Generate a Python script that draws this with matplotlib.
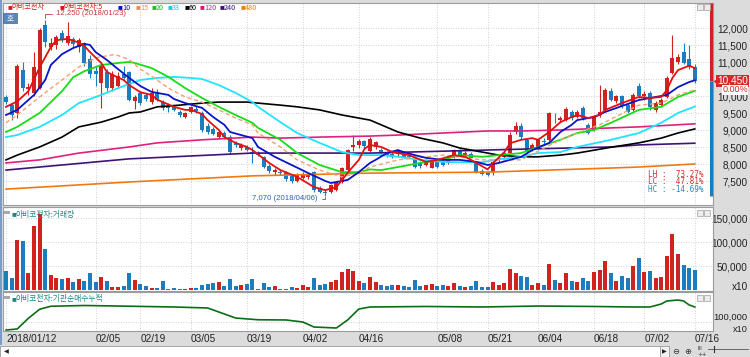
import numpy as np
import matplotlib
matplotlib.use("Agg")
import matplotlib.pyplot as plt
from matplotlib.patches import Rectangle
from matplotlib.transforms import blended_transform_factory

plt.rcParams['font.family'] = ['Noto Sans CJK KR', 'DejaVu Sans']

NAME = '아비코전자'

# daily candles, 2018/01/12 .. 2018/07/16
opens = [9980, 9750, 9500, 10770, 10200, 10100, 10250, 12100, 11450, 11500,
         11860, 11560, 11680, 11450, 11560, 11100, 10750, 10400, 10700, 10250,
         10300, 10650, 10700, 9850, 10100, 10040, 9830, 10130, 9830, 9710,
         9680, 9540, 9390, 9540, 9640, 9510, 9120, 9050, 8800, 8920,
         8800, 8620, 8480, 8520, 8360, 8330, 8210, 7950, 7760, 7780,
         7780, 7650, 7520, 7600, 7620, 7780, 7300, 7200, 7190, 7250,
         7480, 7830, 8500, 8560, 8680, 8400, 8500, 8420, 8360, 8300,
         8300, 8360, 8250, 8210, 8050, 7980, 7900, 8060, 8100, 8050,
         8230, 8400, 8280, 8300, 8060, 7800, 7750, 7770, 8120, 8220,
         8330, 8950, 9120, 8710, 8420, 8480, 8700, 8720, 9400, 9300,
         9300, 9540, 9390, 9650, 9160, 9010, 9450, 9600, 10150, 9850,
         10000, 9750, 9600, 10300, 10000, 10100, 9600, 9750, 9980, 10690,
         11010, 11300, 11100, 10860]
highs = [10050, 9800, 10950, 11000, 10400, 11300, 12000, 12250, 11700, 11800,
         11950, 12190, 11750, 11700, 11600, 11200, 10900, 10950, 10800, 10750,
         10700, 10900, 10750, 10050, 10150, 10100, 10250, 10200, 9900, 9800,
         9720, 9600, 9550, 9720, 9700, 9560, 9200, 9100, 9000, 8980,
         8850, 8700, 8620, 8560, 8520, 8380, 8250, 8000, 7880, 7830,
         7800, 7700, 7750, 7760, 7720, 7800, 7350, 7260, 7420, 7520,
         7920, 8450, 8860, 8750, 8720, 8800, 8700, 8480, 8400, 8350,
         8420, 8400, 8300, 8250, 8100, 8150, 8120, 8100, 8180, 8250,
         8450, 8450, 8380, 8350, 8100, 7850, 7800, 8100, 8250, 8350,
         8950, 9250, 9200, 8780, 8620, 8750, 8780, 9550, 9500, 9420,
         9680, 9600, 9600, 9700, 9200, 9450, 10330, 10250, 10250, 10050,
         10050, 9800, 10100, 10400, 10150, 10150, 9850, 9950, 10600, 11800,
         11250, 11560, 11500, 10950]
lows = [9780, 9300, 9350, 10150, 10050, 10000, 10200, 11450, 11350, 11400,
        11600, 11500, 11450, 11300, 10900, 10550, 10300, 9650, 10150, 10150,
        10250, 10500, 9850, 9640, 9750, 9850, 9780, 9850, 9600, 9550,
        9560, 9400, 9350, 9500, 9520, 8950, 8900, 8850, 8750, 8750,
        8300, 8500, 8420, 8400, 8050, 8250, 7880, 7750, 7700, 7700,
        7520, 7450, 7480, 7560, 7580, 7200, 7150, 7070, 7150, 7220,
        7450, 7800, 8400, 8480, 8480, 8350, 8450, 8300, 8220, 8180,
        8250, 8200, 8180, 7880, 7900, 7950, 7880, 7900, 7950, 8000,
        8200, 8250, 8250, 8150, 7750, 7700, 7650, 7700, 8080, 8180,
        8300, 8900, 8750, 8300, 8380, 8450, 8600, 8700, 9200, 9250,
        9280, 9300, 9350, 9300, 8880, 8980, 9400, 9550, 9850, 9800,
        9650, 9500, 9580, 9950, 9900, 9600, 9550, 9700, 9950, 10650,
        10950, 10950, 10800, 10400]
closes = [9830, 9450, 10890, 10250, 10280, 10860, 11950, 11600, 11560, 11740,
          11680, 11770, 11550, 11650, 10970, 10650, 10650, 10900, 10250, 10650,
          10600, 10550, 9900, 9980, 9800, 9920, 10100, 9890, 9650, 9650,
          9600, 9450, 9510, 9680, 9560, 9010, 8950, 8900, 8950, 8800,
          8360, 8580, 8570, 8430, 8330, 8280, 7920, 7800, 7820, 7740,
          7570, 7520, 7700, 7700, 7680, 7250, 7200, 7170, 7390, 7480,
          7890, 8420, 8570, 8680, 8530, 8750, 8660, 8330, 8270, 8210,
          8390, 8220, 8210, 7920, 7950, 8100, 8090, 7920, 7980, 8200,
          8420, 8280, 8330, 8180, 7770, 7720, 7680, 8060, 8180, 8330,
          8860, 9120, 8800, 8360, 8570, 8710, 8650, 9500, 9380, 9360,
          9630, 9360, 9540, 9360, 8920, 9390, 9540, 10190, 9900, 10000,
          9700, 9550, 10050, 10000, 10080, 9680, 9800, 9890, 10530, 11120,
          11160, 10980, 10860, 10450]
# volume, in thousands (axis unit x10)
volume_k = [41, 25, 105, 102, 37, 134, 158, 86, 31, 25,
            23, 25, 17, 23, 19, 37, 18, 27, 19, 7,
            7, 8, 37, 21, 14, 8, 4, 4, 19, 3,
            5, 3, 3, 5, 4, 10, 14, 15, 18, 8,
            24, 8, 11, 14, 24, 2, 15, 7, 8, 3,
            3, 7, 4, 10, 6, 25, 12, 14, 18, 22,
            38, 45, 40, 20, 15, 28, 18, 10, 8, 12,
            10, 9, 6, 22, 8, 10, 14, 9, 12, 8,
            15, 9, 7, 8, 20, 6, 7, 18, 10, 15,
            45, 35, 30, 28, 12, 15, 10, 55, 22, 15,
            35, 20, 18, 25, 20, 38, 42, 60, 35, 20,
            30, 25, 50, 68, 39, 41, 26, 27, 72, 118,
            76, 52, 46, 42]

# moving averages (candle index, price)
ma5_i = [0, 2, 4, 6, 8, 9, 11, 13, 14, 15, 17, 18, 19, 21, 22, 24, 26, 27, 30, 32,
         33, 35, 36, 38, 39, 41, 43, 44, 47, 49, 52, 55, 57, 59, 61, 63, 64, 65, 67, 69,
         72, 75, 77, 80, 82, 84, 86, 87, 89, 90, 92, 94, 95, 97, 99, 101, 102, 104, 106, 107,
         110, 113, 115, 117, 118, 119, 120, 122, 123]
ma5_v = [9690, 9850, 10150, 10850, 11450, 11650, 11690, 11580, 11480, 11300, 10980, 10720, 10630, 10480, 10330, 10120, 10040, 9900, 9690, 9600,
         9600, 9480, 9300, 9010, 8800, 8630, 8510, 8420, 8040, 7830, 7630, 7330, 7240, 7330, 7750, 8130, 8450, 8570, 8510, 8360,
         8270, 8070, 8130, 8270, 8220, 8040, 7850, 8040, 8360, 8620, 8720, 8770, 8720, 8950, 9240, 9390, 9450, 9360, 9450, 9600,
         9800, 9980, 9950, 9980, 10180, 10540, 10770, 10900, 10830]
ma10_i = [0, 2, 5, 7, 8, 10, 12, 14, 15, 16, 18, 20, 22, 24, 26, 29, 30, 32, 35, 37,
          39, 40, 42, 44, 45, 48, 51, 54, 57, 58, 61, 63, 65, 66, 68, 70, 71, 73, 75, 78,
          81, 84, 86, 88, 92, 94, 97, 99, 101, 102, 105, 107, 113, 115, 118, 120, 122, 123]
ma10_v = [9450, 9600, 10040, 10480, 10920, 11240, 11420, 11540, 11510, 11300, 11070, 10800, 10540, 10300, 10130, 10040, 9920, 9800, 9660, 9390,
          9160, 8950, 8860, 8770, 8510, 8220, 7980, 7740, 7510, 7450, 7540, 7770, 8040, 8130, 8330, 8420, 8360, 8270, 8190, 8130,
          8130, 8070, 7980, 8040, 8220, 8420, 8630, 8950, 9160, 9300, 9390, 9540, 9890, 9950, 10040, 10270, 10420, 10470]
ma15_i = [0, 2, 6, 10, 13, 16, 19, 20, 22, 24, 26, 29, 32, 35, 38, 41, 44, 45, 49, 52,
          56, 60, 63, 65, 70, 78, 85, 92, 99, 102, 106, 113, 117, 120, 123]
ma15_v = [9220, 9450, 9980, 10480, 10860, 11130, 11220, 11200, 11080, 10800, 10590, 10240, 9980, 9830, 9600, 9360, 9160, 8920, 8510, 8130,
          7830, 7630, 7740, 7920, 8130, 8270, 8130, 8130, 8720, 8920, 9160, 9740, 9800, 10040, 10190]
ma20_i = [0, 2, 6, 10, 12, 14, 17, 20, 22, 23, 26, 29, 32, 35, 38, 41, 44, 45, 49, 52,
          56, 60, 63, 65, 67, 70, 74, 78, 81, 85, 88, 92, 95, 99, 102, 105, 108, 113, 117, 120, 123]
ma20_v = [8950, 9100, 9510, 10150, 10560, 10740, 10920, 10980, 11010, 10980, 10830, 10570, 10240, 9950, 9690, 9450, 9220, 9070, 8720, 8330,
          7980, 7770, 7770, 7850, 7830, 7920, 8040, 8130, 8270, 8220, 8270, 8330, 8510, 8720, 8920, 9010, 9220, 9600, 9690, 9980, 10160]
ma33_i = [0, 2, 6, 10, 13, 17, 20, 24, 27, 30, 33, 35, 38, 41, 44, 45, 49, 52, 56, 60,
          63, 67, 70, 74, 78, 81, 85, 88, 92, 95, 99, 102, 108, 113, 117, 120, 123]
ma33_v = [8800, 8860, 9100, 9450, 9800, 10040, 10240, 10480, 10540, 10570, 10540, 10510, 10330, 10100, 9830, 9690, 9240, 8920, 8630, 8360,
          8270, 8270, 8220, 8130, 8070, 8060, 8060, 8150, 8220, 8330, 8360, 8510, 8720, 8920, 9220, 9510, 9700]
ma60_i = [0, 2, 6, 10, 13, 17, 20, 22, 24, 27, 31, 35, 38, 43, 45, 49, 52, 56, 60, 65,
          67, 70, 74, 78, 81, 85, 88, 92, 95, 99, 102, 108, 113, 117, 120, 123]
ma60_v = [8130, 8270, 8510, 8800, 9100, 9240, 9390, 9510, 9540, 9690, 9740, 9800, 9830, 9830, 9800, 9740, 9690, 9600, 9450, 9300,
          9160, 8950, 8770, 8630, 8480, 8360, 8270, 8220, 8220, 8270, 8330, 8500, 8630, 8770, 8920, 9040]
ma120_i = [0, 6, 13, 22, 27, 35, 44, 49, 56, 65, 70, 78, 86, 92, 99, 108, 113, 123]
ma120_v = [8040, 8130, 8330, 8510, 8630, 8720, 8800, 8770, 8800, 8830, 8860, 8920, 8980, 8980, 9010, 9070, 9100, 9190]
ma240_i = [0, 22, 44, 65, 86, 108, 113, 123]
ma240_v = [7830, 8160, 8330, 8330, 8420, 8510, 8570, 8620]
ma480_i = [0, 22, 44, 65, 86, 108, 113, 123]
ma480_v = [7270, 7480, 7660, 7740, 7770, 7890, 7920, 8010]

# institutional net buying, cumulative (thousands, axis unit x10)
inst_i = [0, 2, 4, 6, 8, 14, 20, 30, 36, 41, 45, 50, 53, 55, 59, 61, 63, 65, 75, 85,
          95, 105, 112, 115, 117, 118, 120, 121, 122, 123]
inst_k = [89.3, 90.7, 105, 117, 121, 122, 121.3, 120, 118.7, 105.3, 103, 102.7, 100, 93.3, 92, 102.7, 117.3, 120, 120.7, 120,
          121.3, 120.7, 120, 120, 124, 128, 129.3, 128, 122.7, 120]

ma_periods = [5, 10, 15, 20, 33, 60, 120, 240, 480]
price_ticks = [7500, 8000, 8500, 9000, 9500, 10000, 10500, 11000, 11500, 12000]
vol_ticks = [50000, 100000, 150000]
inst_ticks = [100000]
tick_idx = [0, 16, 24, 33, 43, 53, 63, 77, 86, 95, 105, 114, 123]
tick_lbl = ['2018/01/12', '02/05', '02/19', '03/05', '03/19', '04/02', '04/16',
            '05/08', '05/21', '06/04', '06/18', '07/02', '07/16']

RED = '#d0231f'
BLUE = '#1c7cc0'
TEAL = '#1f8585'
GRID = '#c2c2c2'
NUM_FONT = 'Liberation Sans'

W, H = 750, 357
fig = plt.figure(figsize=(W / 100, H / 100), dpi=100, facecolor='#dcdcdc')


def box(x0, y0, x1, y1):
    return [x0 / W, 1 - y1 / H, (x1 - x0) / W, (y1 - y0) / H]


def fxy(x, y):
    return x / W, 1 - y / H


ax = fig.add_axes(box(3, 3, 713, 205))
axv = fig.add_axes(box(3, 207, 713, 291))
axi = fig.add_axes(box(3, 292, 713, 331))

o = np.array(opens)
h = np.array(highs)
l = np.array(lows)
c = np.array(closes)
x = np.arange(len(c))
cols = np.where(c >= o, RED, BLUE)

for a in (ax, axv, axi):
    a.set_facecolor('white')
    a.set_xlim(-0.54, 126.25)
    for s in a.spines.values():
        s.set_color('#9c9c9c')
        s.set_linewidth(0.8)
    for t in tick_idx:
        a.axvline(t, color=GRID, lw=0.6, ls=(0, (1, 2)), zorder=0)
    a.yaxis.tick_right()
    a.tick_params(axis='x', length=0, labelbottom=False)
    a.tick_params(axis='y', length=0, pad=25, labelsize=7.2, labelcolor='#222222')
    a.grid(axis='y', color=GRID, lw=0.6, ls=(0, (1, 2)), zorder=0)

# ---- price panel ----
ax.set_ylim(6803, 12744)
ax.set_yticks(price_ticks, [f'{v:,}' for v in price_ticks])
ax.vlines(x, l, h, colors=cols, lw=0.8, zorder=2)
ax.bar(x, np.maximum(np.abs(c - o), 15), bottom=np.minimum(o, c), width=0.72,
       color=cols, lw=0, zorder=3)

ma_style = [
    (ma480_i, ma480_v, '#f07a10', '-', 1.2),
    (ma240_i, ma240_v, '#3c1478', '-', 1.2),
    (ma120_i, ma120_v, '#e0207f', '-', 1.2),
    (ma60_i, ma60_v, '#000000', '-', 1.2),
    (ma33_i, ma33_v, '#20e4ff', '-', 1.3),
    (ma20_i, ma20_v, '#18dc18', '-', 1.3),
    (ma15_i, ma15_v, '#f4a070', (0, (3, 2)), 1.0),
    (ma10_i, ma10_v, '#0a14c8', '-', 1.3),
    (ma5_i, ma5_v, '#e41010', '-', 1.3),
]
for xi, yv, col, ls, lw in ma_style:
    ax.plot(xi, yv, color=col, ls=ls, lw=lw, zorder=4)

hi = int(h.max())
lo = int(l.min())
last = int(c[-1])
i_hi = int(h.argmax())
i_lo = int(l.argmin())

ax.annotate(f'{hi:,} (2018/01/23)', xy=(i_hi, hi), xytext=(56, H - 13.5),
            textcoords='figure pixels', ha='left', va='center', fontsize=5.6,
            family=NUM_FONT, color='#c03a3a',
            arrowprops=dict(arrowstyle='-', color='#c03a3a', lw=0.6, shrinkA=1, shrinkB=1,
                            connectionstyle='angle,angleA=0,angleB=90,rad=0'))
ax.annotate(f'{lo:,} (2018/04/06)', xy=(i_lo, lo), xytext=(318, H - 199),
            textcoords='figure pixels', ha='right', va='center', fontsize=5.6,
            family=NUM_FONT, color='#2a64b0',
            arrowprops=dict(arrowstyle='-', color='#2a64b0', lw=0.6, shrinkA=1, shrinkB=1,
                            connectionstyle='angle,angleA=0,angleB=90,rad=0'))

# high/low/last statistics
stats = [('LH', (hi - lo) / lo * 100, '#d03030', 174.5),
         ('LC', (last - lo) / lo * 100, '#d03030', 182),
         ('HC', (last - hi) / hi * 100, '#2a86c8', 190)]
for key, val, col, yy in stats:
    fig.text(*fxy(704, yy), f'{key} : {val:6.2f}%', ha='right', va='center',
             fontsize=5.6, family='DejaVu Sans Mono', color=col)

trans = blended_transform_factory(ax.transAxes, ax.transData)
ytop = ax.get_ylim()[1]
xa = (711 - 3) / 710
ax.plot([xa, xa], [last, ytop], transform=trans, color=RED, lw=2.2,
        solid_capstyle='butt', clip_on=False, zorder=5)
ax.plot([xa, xa], [lo, last], transform=trans, color=BLUE, lw=2.2,
        solid_capstyle='butt', clip_on=False, zorder=5)
ax.plot([1.006], [last], transform=trans, marker='<', ms=5, color=RED,
        clip_on=False, zorder=6)
xr = (748 - 3) / 710
ax.text(xr, last, f'{last:,}', transform=trans, ha='right', va='center',
        fontsize=7.2, family=NUM_FONT, color='white', clip_on=False, zorder=6,
        bbox=dict(boxstyle='square,pad=0.12', fc='#d42a2a', ec='none'))
ax.annotate(f'{(last - c[-1]) / last * 100:.2f}%', xy=(xr, last), xycoords=trans,
            xytext=(0, -6.4), textcoords='offset points', ha='right', va='center',
            fontsize=6.5, family=NUM_FONT, color='#d42a2a', zorder=6,
            bbox=dict(boxstyle='square,pad=0.02', fc='white', ec='none'))

# ---- volume panel ----
vol = np.array(volume_k) * 1000
axv.set_ylim(-1500, 173500)
axv.set_yticks(vol_ticks, [f'{v:,}' for v in vol_ticks])
axv.bar(x, vol, width=0.72, color=cols, lw=0, zorder=3)
fig.text(*fxy(748, 287), 'x10', ha='right', va='center', fontsize=7.2,
         family=NUM_FONT, color='#222222')

# ---- institutional panel ----
axi.set_ylim(88000, 140000)
axi.set_yticks(inst_ticks, [f'{v:,}' for v in inst_ticks])
axi.plot(inst_i, np.array(inst_k) * 1000, color='#0a6e14', lw=1.2, zorder=3)
fig.text(*fxy(748, 329), 'x10', ha='right', va='center', fontsize=6.6,
         family=NUM_FONT, color='#222222')
axi.set_xticks(tick_idx, tick_lbl)
axi.tick_params(axis='x', labelbottom=True, length=0, pad=2.5, labelsize=7.2,
                labelcolor='#222222')

for a in (ax, axv, axi):
    for lbl in a.get_yticklabels() + a.get_xticklabels():
        lbl.set_family(NUM_FONT)
    for lbl in a.get_yticklabels():
        lbl.set_ha('right')
for lbl in axi.get_yticklabels():
    lbl.set_va('bottom')
    lbl.set_fontsize(6.8)
for lbl in axi.get_xticklabels():
    lbl.set_ha('left')

# ---- headers ----
legend_items = [NAME, f'{NAME}:{ma_periods[0]}'] + [str(p) for p in ma_periods[1:]]
legend_cols = ['#d42020', '#e41010', '#0a14c8', '#f08c50', '#18c818', '#18c8e8',
               '#000000', '#d81b7a', '#3c1478', '#ee8010']
legend_x = [8, 60, 118, 136, 152, 168, 185, 200, 220, 241]
for txt, col, xx in zip(legend_items, legend_cols, legend_x):
    fig.text(*fxy(xx, 7.5), '■', fontsize=3.5, color=col, va='center')
    fig.text(*fxy(xx + 4, 7.5), txt, fontsize=5.2, color=col, va='center')

fig.patches.append(Rectangle(fxy(3, 23), 14 / W, 10 / H, transform=fig.transFigure,
                             fc='#5d86b5', ec='#44668e', lw=0.5))
fig.text(*fxy(10, 18), '호', fontsize=5.5, color='white', ha='center', va='center')

for yy, label in [(215, f'{NAME}:거래량'), (299.5, f'{NAME}:기관순매수누적')]:
    fig.patches.append(Rectangle(fxy(4, yy - 1), 6 / W, 3 / H, transform=fig.transFigure,
                                 fc='#a8a8a8', ec='none'))
    fig.text(*fxy(12, yy), '■', fontsize=3.5, color=TEAL, va='center')
    fig.text(*fxy(16, yy), label, fontsize=5.6, color=TEAL, va='center')

# little panel buttons
for yy in (4, 210, 295):
    for xx in (697, 704):
        fig.patches.append(Rectangle(fxy(xx, yy + 6), 6 / W, 6 / H,
                                     transform=fig.transFigure, fc='#ececec',
                                     ec='#a0a0a0', lw=0.5))

# left edge strip
fig.patches.append(Rectangle(fxy(0, 345), 1.5 / W, 345 / H, transform=fig.transFigure,
                             fc='#7c9cc6', ec='none'))

# ---- scroll bar ----
fig.patches.append(Rectangle(fxy(0, 357), 660 / W, 11 / H, transform=fig.transFigure,
                             fc='white', ec='#9a9a9a', lw=0.6))
fig.patches.append(Rectangle(fxy(660, 357), 9 / W, 11 / H, transform=fig.transFigure,
                             fc='#f2f2f2', ec='#9a9a9a', lw=0.6))
fig.text(*fxy(4, 351.5), '◀', fontsize=4.5, color='#222222', va='center', family='DejaVu Sans')
fig.text(*fxy(662, 351.5), '▶', fontsize=4.5, color='#222222', va='center', family='DejaVu Sans')
fig.text(*fxy(672, 351.5), '⊖', fontsize=6, color='#333333', va='center', family='DejaVu Sans')
fig.text(*fxy(684, 351.5), '⊕', fontsize=6, color='#333333', va='center', family='DejaVu Sans')
fig.text(*fxy(697, 349), 'III', fontsize=4, color='#333333', va='center', family='DejaVu Sans')
fig.text(*fxy(697, 354.5), '++', fontsize=4, color='#333333', va='center', family='DejaVu Sans')
fig.lines.append(plt.Line2D([708 / W, 748 / W], [1 - 349 / H, 1 - 349 / H],
                            transform=fig.transFigure, color='#555555', lw=0.6))
fig.lines.append(plt.Line2D([714 / W, 714 / W], [1 - 346 / H, 1 - 352 / H],
                            transform=fig.transFigure, color='#333333', lw=0.8))

fig.savefig('out.png', dpi=100, facecolor=fig.get_facecolor())
